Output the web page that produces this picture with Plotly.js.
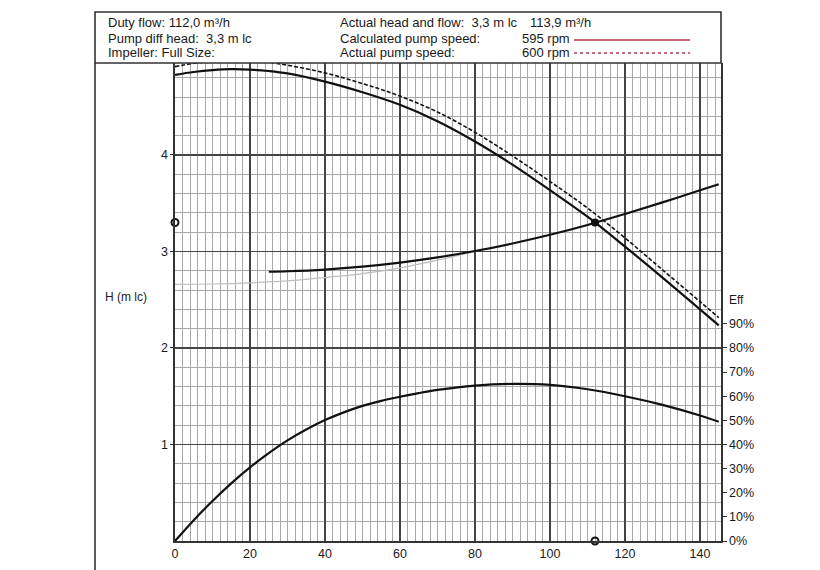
<!DOCTYPE html>
<html>
<head>
<meta charset="utf-8">
<script src="https://cdn.plot.ly/plotly-3.0.1.min.js"></script>
<style>html,body{margin:0;padding:0;background:#fff;}#chart{width:820px;height:570px;}</style>
</head>
<body>
<div id="chart"></div>
<script>
// Pump curve at calculated speed (595 rpm)
const qCalc = [0, 5, 10, 15, 20, 25, 30, 40, 50, 60, 70, 80, 90, 100, 110, 120, 130, 140, 145];
const hCalc = [4.83, 4.86, 4.88, 4.89, 4.885, 4.87, 4.845, 4.76, 4.65, 4.52, 4.35, 4.14, 3.90, 3.635, 3.36, 3.05, 2.73, 2.40, 2.235];
// Pump curve at actual speed (600 rpm)
const qAct = [0, 5, 10, 15, 20, 25, 30, 40, 50, 60, 70, 80, 90, 100, 110, 120, 130, 140, 145];
const hAct = [4.915, 4.95, 4.97, 4.98, 4.975, 4.96, 4.93, 4.85, 4.74, 4.61, 4.445, 4.235, 3.99, 3.725, 3.45, 3.14, 2.81, 2.48, 2.315];
// System curve
const qSys = [25, 30, 40, 50, 60, 70, 80, 90, 100, 110, 120, 130, 140, 145];
const hSys = [2.79, 2.795, 2.813, 2.843, 2.885, 2.939, 3.005, 3.083, 3.173, 3.275, 3.389, 3.509, 3.634, 3.697];
// Faint system curve extension
const qSysExt = [0, 10, 20, 30, 40, 50, 60, 70, 80];
const hSysExt = [2.66, 2.663, 2.675, 2.695, 2.73, 2.77, 2.83, 2.91, 3.0];
// Efficiency (%)
const qEff = [0, 5, 10, 15, 20, 25, 30, 35, 40, 45, 50, 55, 60, 65, 70, 80, 90, 100, 110, 120, 130, 140, 145];
const eff = [0, 8.65, 16.6, 23.9, 30.5, 36.4, 41.7, 46.2, 50.1, 53.3, 56.0, 58.1, 59.8, 61.3, 62.6, 64.4, 65.1, 64.7, 62.9, 60.0, 56.4, 52.0, 49.4];
// Duty points
const dutyQ = 112, dutyH = 3.3;
// Axis ticks
const xTicks = [0, 20, 40, 60, 80, 100, 120, 140];
const yTicks = [1, 2, 3, 4];
const effTicks = [0, 10, 20, 30, 40, 50, 60, 70, 80, 90];
const effLabels = effTicks.map(v => v + '%');

const fam = 'Liberation Sans, Arial, sans-serif';
const font = {family: fam, size: 12, color: '#1a1a1a'};

const traces = [
  {x: qSysExt, y: hSysExt, mode: 'lines', line: {color: '#bdbdbd', width: 1.2, shape: 'spline'}, hoverinfo: 'skip'},
  {x: qSys, y: hSys, mode: 'lines', line: {color: '#111', width: 2.2, shape: 'spline'}},
  {x: qAct, y: hAct, mode: 'lines', line: {color: '#111', width: 1.6, dash: '4px,2px', shape: 'spline'}},
  {x: qCalc, y: hCalc, mode: 'lines', line: {color: '#111', width: 2.2, shape: 'spline'}},
  {x: qEff, y: eff, yaxis: 'y2', mode: 'lines', line: {color: '#111', width: 2.2, shape: 'spline'}},
  {x: [0, dutyQ], y: [dutyH, 0], mode: 'markers', cliponaxis: false,
   marker: {symbol: 'circle-open', size: 7, color: '#111', line: {width: 2, color: '#111'}}},
  {x: [dutyQ], y: [dutyH], mode: 'markers', cliponaxis: false,
   marker: {symbol: 'circle', size: 8, color: '#111'}}
];

const layout = {
  width: 820, height: 570, autosize: false,
  margin: {l: 175, r: 99, t: 63, b: 29, pad: 0},
  paper_bgcolor: '#fff', plot_bgcolor: '#fff',
  showlegend: false,
  font: font,
  xaxis: {
    range: [0, 145.6], tickvals: xTicks, ticktext: xTicks.map(String),
    showgrid: true, gridcolor: '#444', gridwidth: 1.6,
    showline: true, linecolor: '#333', linewidth: 1.6,
    zeroline: false, ticks: '',
    minor: {dtick: 2, tick0: 0, showgrid: true, gridcolor: '#a8a8a8', gridwidth: 1, ticks: ''},
    tickfont: {family: fam, size: 12.5, color: '#1a1a1a'}
  },
  yaxis: {
    range: [0, 4.953], tickvals: yTicks, ticktext: yTicks.map(String),
    showgrid: true, gridcolor: '#444', gridwidth: 1.6,
    showline: true, linecolor: '#333', linewidth: 1.6,
    zeroline: false, ticks: 'outside', ticklen: 3, tickcolor: '#333',
    minor: {dtick: 0.2, tick0: 0, showgrid: true, gridcolor: '#a8a8a8', gridwidth: 1, ticks: ''},
    tickfont: {family: fam, size: 12.5, color: '#1a1a1a'}
  },
  yaxis2: {
    overlaying: 'y', side: 'right', range: [0, 198.1],
    tickvals: effTicks, ticktext: effLabels,
    showgrid: false, zeroline: false,
    showline: true, linecolor: '#333', linewidth: 1.6,
    ticks: 'outside', ticklen: 4, tickcolor: '#333',
    tickfont: {family: fam, size: 12.5, color: '#1a1a1a'}
  },
  shapes: [
    {type: 'rect', xref: 'paper', yref: 'paper', x0: -0.1465, x1: 1, y0: 1, y1: 1.1067,
     line: {color: '#333', width: 1.6}, fillcolor: 'rgba(0,0,0,0)'},
    {type: 'line', xref: 'paper', yref: 'paper', x0: -0.1465, x1: -0.1465, y0: -0.07, y1: 1,
     line: {color: '#333', width: 1.6}},
    {type: 'line', xref: 'paper', yref: 'paper', x0: 0.7308, x1: 0.9432, y0: 1.0481, y1: 1.0481,
     line: {color: '#b03a52', width: 1.5}},
    {type: 'line', xref: 'paper', yref: 'paper', x0: 0.7308, x1: 0.9432, y0: 1.0209, y1: 1.0209,
     line: {color: '#b03a52', width: 1.5, dash: '3px,3px'}}
  ],
  annotations: [
    {text: 'Duty flow: 112,0 m³/h', x: -0.1264, y: 1.0837},
    {text: 'Pump diff head:  3,3 m lc', x: -0.1264, y: 1.0523},
    {text: 'Impeller: Full Size:', x: -0.1264, y: 1.0230},
    {text: 'Actual head and flow:  3,3 m lc', x: 0.2985, y: 1.0837},
    {text: '113,9 m³/h', x: 0.6465, y: 1.0837},
    {text: 'Calculated pump speed:', x: 0.2985, y: 1.0523},
    {text: '595 rpm', x: 0.6319, y: 1.0523},
    {text: 'Actual pump speed:', x: 0.2985, y: 1.0230},
    {text: '600 rpm', x: 0.6319, y: 1.0230},
    {text: 'H (m lc)', x: -0.1319, y: 0.5105, size: 12},
    {text: 'Eff', x: 1.011, y: 0.5042, size: 12}
  ].map(a => ({xref: 'paper', yref: 'paper', xanchor: 'left', yanchor: 'middle',
    showarrow: false, text: a.text, x: a.x, y: a.y,
    font: {family: fam, size: a.size || 13, color: '#1a1a1a'}}))
};

Plotly.newPlot('chart', traces, layout, {staticPlot: true, displayModeBar: false});
</script>
</body>
</html>
